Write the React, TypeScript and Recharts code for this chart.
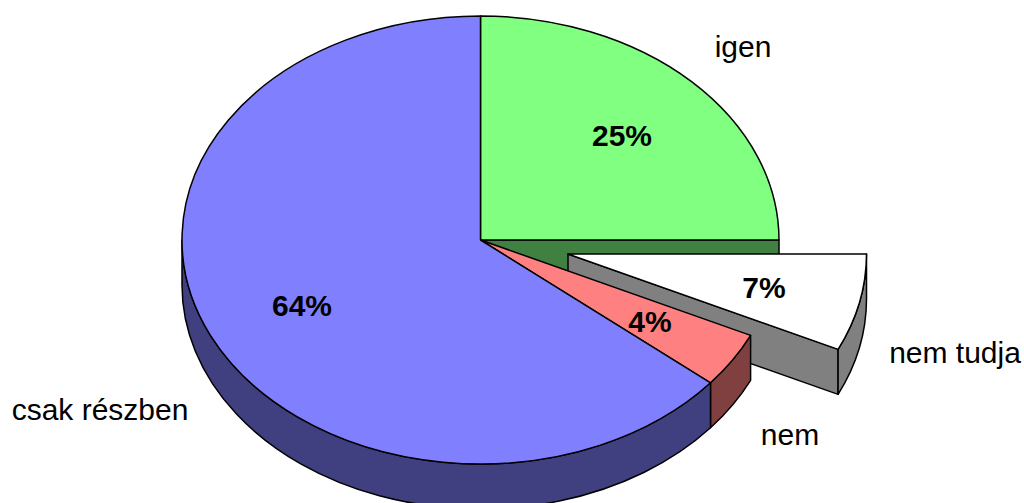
import React from "react";
import { PieChart, Pie } from "recharts";

const categories = ["igen", "nem tudja", "nem", "csak részben"];
const shares = [25, 7, 4, 64];
const topColors = ["#80ff80", "#ffffff", "#ff8080", "#8080ff"];
const wallColors = ["#408040", "#808080", "#804040", "#404080"];

const WIDTH = 1024;
const HEIGHT = 503;
const CX = 480.5;
const CY = 240;
const RX = 298.5;
const RY = 224;
const DEPTH = 45;
const FONT = "'Liberation Sans', Arial, sans-serif";
const STROKE = { stroke: "#000", strokeWidth: 1.5, strokeLinejoin: "round" as const };

const explode: Record<string, [number, number]> = { "nem tudja": [87.5, 14] };
const showsEndFace = new Set(["igen", "nem tudja"]);
const pctPos: Record<string, [number, number]> = {
  igen: [622, 146],
  "nem tudja": [764, 298],
  nem: [650, 332],
  "csak részben": [302, 316],
};
const namePos: Record<string, [number, number]> = {
  igen: [743, 57],
  "nem tudja": [955, 363],
  nem: [790, 445],
  "csak részben": [100, 420],
};

const chartData = categories.map((name, i) => ({
  name,
  value: shares[i],
  fill: topColors[i],
  wall: wallColors[i],
}));

function SliceShape(props: any) {
  const { cx, cy, outerRadius, startAngle, endAngle, payload } = props;
  const item = payload?.payload ?? payload;
  const name = item.name ?? props.name;
  const [dx, dy] = explode[name] ?? [0, 0];
  const rx = outerRadius;
  const ry = (outerRadius * RY) / RX;
  const ox = cx + dx;
  const oy = cy + dy;
  const hi = Math.max(startAngle, endAngle);
  const lo = Math.min(startAngle, endAngle);
  const pt = (deg: number, down = 0) => {
    const r = (deg * Math.PI) / 180;
    return [ox + rx * Math.cos(r), oy - ry * Math.sin(r) + down];
  };
  const [sx, sy] = pt(hi);
  const [ex, ey] = pt(lo);
  const large = hi - lo > 180 ? 1 : 0;
  const top = `M${ox},${oy} L${sx},${sy} A${rx},${ry} 0 ${large} 1 ${ex},${ey} Z`;

  // the outer wall shows only for the part of the rim below the horizon
  const ranges: [number, number][] = [];
  for (const shift of [0, -360]) {
    const a = Math.min(hi, 0 + shift);
    const b = Math.max(lo, -180 + shift);
    if (a > b) ranges.push([a, b]);
  }
  const walls = ranges.map(([a, b]) => {
    const [ax, ay] = pt(a);
    const [bx, by] = pt(b);
    const [cx2, cy2] = pt(b, DEPTH);
    const [dx2, dy2] = pt(a, DEPTH);
    return `M${ax},${ay} A${rx},${ry} 0 0 1 ${bx},${by} L${cx2},${cy2} A${rx},${ry} 0 0 0 ${dx2},${dy2} Z`;
  });

  const face = showsEndFace.has(name)
    ? `M${ox},${oy} L${ex},${ey} L${ex},${ey + DEPTH} L${ox},${oy + DEPTH} Z`
    : null;

  return (
    <g>
      {face && <path d={face} fill={item.wall} {...STROKE} />}
      {walls.map((d, i) => (
        <path key={i} d={d} fill={item.wall} {...STROKE} />
      ))}
      <path d={top} fill={item.fill} {...STROKE} />
    </g>
  );
}

function SliceLabel(props: any) {
  const name = props.name ?? props.payload?.name;
  const value = props.value ?? props.payload?.value;
  const [px, py] = pctPos[name];
  const [nx, ny] = namePos[name];
  return (
    <g>
      <text x={px} y={py} textAnchor="middle" fontFamily={FONT} fontSize={30} fontWeight="bold" fill="#000">
        {`${value}%`}
      </text>
      <text x={nx} y={ny} textAnchor="middle" fontFamily={FONT} fontSize={30} fill="#000">
        {name}
      </text>
    </g>
  );
}

export default function App() {
  return (
    <div style={{ position: "absolute", left: 0, top: 0, width: WIDTH, height: HEIGHT, background: "#fff" }}>
      <PieChart width={WIDTH} height={HEIGHT} margin={{ top: 0, right: 0, bottom: 0, left: 0 }}>
        <Pie
          data={chartData}
          dataKey="value"
          nameKey="name"
          cx={CX}
          cy={CY}
          innerRadius={0}
          outerRadius={RX}
          startAngle={90}
          endAngle={-270}
          paddingAngle={0}
          shape={SliceShape}
          label={SliceLabel}
          labelLine={false}
          isAnimationActive={false}
        />
      </PieChart>
    </div>
  );
}
